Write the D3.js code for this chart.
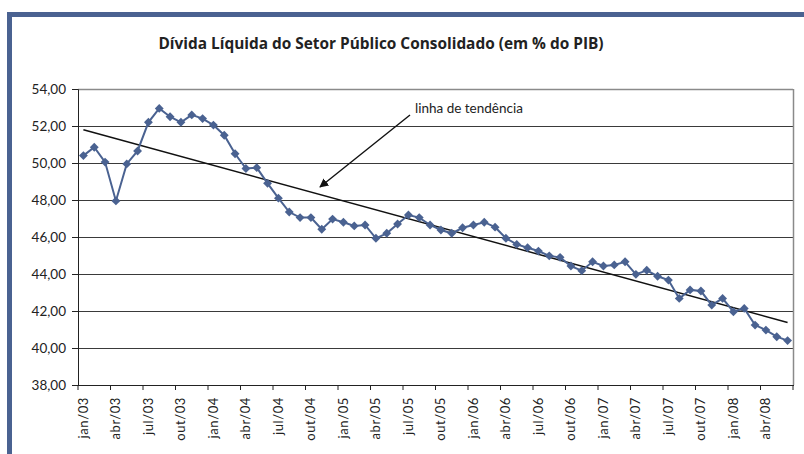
<!DOCTYPE html>
<html lang="pt">
<head>
<meta charset="utf-8">
<script src="https://d3js.org/d3.v7.min.js"></script>
<style>
body { margin: 0; background: #fff; }
svg { display: block; font-family: Lato, "Open Sans", sans-serif; }
</style>
</head>
<body>
<svg width="804" height="454"></svg>
<script>
// monthly categories jan/03 .. jun/08
var months = ["jan", "fev", "mar", "abr", "mai", "jun", "jul", "ago", "set", "out", "nov", "dez"];
var years = ["03", "04", "05", "06", "07", "08"];
var categories = [];
years.forEach(function(y) {
  months.forEach(function(m) { categories.push(m + "/" + y); });
});
categories = categories.slice(0, 66);

// dívida líquida (% do PIB)
var values = [
  50.40, 50.85, 50.05, 47.95, 49.95, 50.65, 52.20, 52.95, 52.50, 52.20, 52.60, 52.40,
  52.05, 51.50, 50.50, 49.70, 49.75, 48.90, 48.10, 47.35, 47.05, 47.05, 46.42, 46.97,
  46.80, 46.60, 46.65, 45.93, 46.20, 46.70, 47.19, 47.05, 46.65, 46.38, 46.20, 46.50,
  46.65, 46.80, 46.53, 45.93, 45.60, 45.42, 45.24, 44.98, 44.90, 44.43, 44.18, 44.66,
  44.43, 44.49, 44.66, 43.98, 44.20, 43.88, 43.67, 42.68, 43.14, 43.08, 42.32, 42.68,
  41.96, 42.14, 41.24, 40.97, 40.61, 40.40
];

var yTicks = [38, 40, 42, 44, 46, 48, 50, 52, 54];

var svg = d3.select("svg");
var blue = "#4a6291";

// outer frame (top and left bars)
svg.append("rect").attr("x", 7).attr("y", 12).attr("width", 797).attr("height", 5).attr("fill", blue);
svg.append("rect").attr("x", 7).attr("y", 12).attr("width", 5).attr("height", 442).attr("fill", blue);

var plotL = 78, plotR = 793, plotT = 89, plotB = 385;

svg.append("text")
  .attr("x", 381)
  .attr("y", 49)
  .attr("text-anchor", "middle")
  .attr("font-family", "'Open Sans', sans-serif")
  .attr("font-size", "15.4px")
  .attr("font-weight", "bold")
  .attr("fill", "#222")
  .text("Dívida Líquida do Setor Público Consolidado (em % do PIB)");

var x = d3.scaleBand().domain(categories).range([plotL, plotR]);
var y = d3.scaleLinear().domain([38, 54]).range([plotB, plotT]);

// gridlines
svg.append("g")
  .selectAll("line")
  .data(yTicks.slice(1))
  .enter().append("line")
  .attr("x1", plotL).attr("x2", plotR)
  .attr("y1", function(d) { return Math.round(y(d)) + 0.5; })
  .attr("y2", function(d) { return Math.round(y(d)) + 0.5; })
  .attr("stroke", function(d) { return d == 54 ? "#8a8a8a" : "#3a3a3a"; })
  .attr("stroke-width", function(d) { return d == 54 ? 1.5 : 1; });

// right border of plot area
svg.append("line")
  .attr("x1", plotR + 0.5).attr("x2", plotR + 0.5)
  .attr("y1", plotT).attr("y2", plotB)
  .attr("stroke", "#8a8a8a").attr("stroke-width", 1.5);

// y axis
var yAxis = svg.append("g")
  .attr("transform", "translate(" + plotL + ",0)")
  .call(d3.axisLeft(y).tickValues(yTicks).tickSize(6).tickPadding(6)
    .tickFormat(function(d) { return d3.format(".2f")(d).replace(".", ","); }));
yAxis.selectAll("text").attr("font-size", "13.5px").attr("fill", "#222").attr("font-family", "Lato, sans-serif");
yAxis.selectAll("line, path").attr("stroke", "#222");

// x axis: ticks every 3 months, labels on the first month of each quarter
var xAxisG = svg.append("g").attr("transform", "translate(0," + plotB + ")");
xAxisG.append("line")
  .attr("x1", plotL).attr("x2", plotR + 1)
  .attr("y1", 0.5).attr("y2", 0.5)
  .attr("stroke", "#222");
var tickIdx = d3.range(0, categories.length + 1, 3);
xAxisG.selectAll(".xt")
  .data(tickIdx)
  .enter().append("line")
  .attr("class", "xt")
  .attr("x1", function(i) { return i < categories.length ? x(categories[i]) : plotR; })
  .attr("x2", function(i) { return i < categories.length ? x(categories[i]) : plotR; })
  .attr("y1", 0).attr("y2", 5)
  .attr("stroke", "#222");
xAxisG.selectAll(".xl")
  .data(categories.filter(function(c, i) { return i % 3 == 0; }))
  .enter().append("text")
  .attr("class", "xl")
  .attr("transform", function(c) {
    return "translate(" + (x(c) + x.bandwidth() / 2 + 4.5) + ",12) rotate(-90)";
  })
  .attr("text-anchor", "end")
  .attr("font-size", "13px")
  .attr("letter-spacing", "0.6px")
  .attr("fill", "#222")
  .text(function(c) { return c; });

// trend line (least squares over the series)
var n = values.length;
var mx = d3.mean(d3.range(n)), my = d3.mean(values);
var sxy = d3.sum(values, function(v, i) { return (i - mx) * (v - my); });
var sxx = d3.sum(d3.range(n), function(i) { return (i - mx) * (i - mx); });
var slope = sxy / sxx, icpt = my - slope * mx;
function cx(i) { return x(categories[i]) + x.bandwidth() / 2; }
svg.append("line")
  .attr("x1", cx(0)).attr("y1", y(icpt))
  .attr("x2", cx(n - 1)).attr("y2", y(icpt + slope * (n - 1)))
  .attr("stroke", "#111").attr("stroke-width", 1.5);

// series
var line = d3.line()
  .x(function(v, i) { return cx(i); })
  .y(function(v) { return y(v); });
svg.append("path")
  .datum(values)
  .attr("d", line)
  .attr("fill", "none")
  .attr("stroke", blue)
  .attr("stroke-width", 2);
svg.append("g")
  .selectAll("path")
  .data(values)
  .enter().append("path")
  .attr("d", d3.symbol().type(d3.symbolDiamond2).size(50))
  .attr("transform", function(v, i) { return "translate(" + cx(i) + "," + y(v) + ")"; })
  .attr("fill", blue);

// annotation
svg.append("defs").append("marker")
  .attr("id", "arr")
  .attr("viewBox", "0 0 10 10")
  .attr("refX", 9).attr("refY", 5)
  .attr("markerWidth", 9).attr("markerHeight", 9)
  .attr("markerUnits", "userSpaceOnUse")
  .attr("orient", "auto")
  .append("path").attr("d", "M0,0L10,5L0,10z").attr("fill", "#111");
svg.append("line")
  .attr("x1", 410).attr("y1", 115)
  .attr("x2", 320).attr("y2", 187)
  .attr("stroke", "#111").attr("stroke-width", 1.5)
  .attr("marker-end", "url(#arr)");
svg.append("text")
  .attr("x", 415).attr("y", 113)
  .attr("font-size", "13.5px")
  .attr("fill", "#222")
  .text("linha de tendência");
</script>
</body>
</html>
